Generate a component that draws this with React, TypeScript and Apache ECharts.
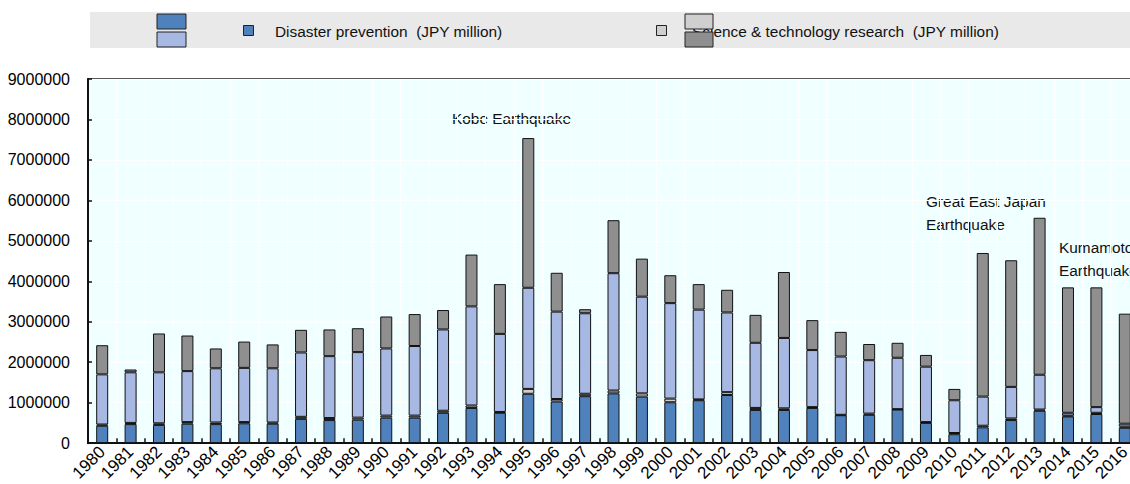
import React, { useEffect, useRef } from "react";
import * as echarts from "echarts";

const years = [
  "1980","1981","1982","1983","1984","1985","1986","1987","1988","1989",
  "1990","1991","1992","1993","1994","1995","1996","1997","1998","1999",
  "2000","2001","2002","2003","2004","2005","2006","2007","2008","2009",
  "2010","2011","2012","2013","2014","2015","2016",
];

const disasterPrevention = [
  430000, 470000, 450000, 480000, 470000, 490000, 480000, 600000, 570000, 580000,
  630000, 630000, 750000, 870000, 750000, 1220000, 1030000, 1160000, 1230000, 1150000,
  1010000, 1060000, 1190000, 820000, 820000, 870000, 690000, 700000, 830000, 500000,
  220000, 390000, 570000, 800000, 660000, 720000, 380000,
];

const scienceResearch = [
  30000, 30000, 40000, 40000, 40000, 30000, 30000, 50000, 50000, 50000,
  50000, 50000, 50000, 60000, 20000, 120000, 60000, 60000, 70000, 80000,
  90000, 20000, 70000, 50000, 40000, 20000, 10000, 30000, 10000, 20000,
  30000, 40000, 40000, 30000, 20000, 30000, 30000,
];

const landConservation = [
  1240000, 1250000, 1260000, 1260000, 1340000, 1340000, 1340000, 1590000, 1530000, 1620000,
  1660000, 1720000, 2010000, 2450000, 1930000, 2500000, 2160000, 1990000, 2900000, 2390000,
  2360000, 2220000, 1970000, 1610000, 1740000, 1410000, 1440000, 1320000, 1270000, 1370000,
  810000, 720000, 780000, 860000, 70000, 140000, 70000,
];

const disasterRecovery = [
  720000, 70000, 960000, 880000, 490000, 650000, 590000, 560000, 660000, 590000,
  790000, 790000, 480000, 1280000, 1230000, 3700000, 960000, 100000, 1310000, 940000,
  690000, 630000, 560000, 690000, 1630000, 740000, 610000, 400000, 370000, 290000,
  280000, 3550000, 3130000, 3880000, 3100000, 2960000, 2720000,
];

const seriesNames = [
  "Disaster prevention  (JPY million)",
  "Science & technology research  (JPY million)",
  "Land conservation  (JPY million)",
  "Disaster recovery  (JPY million)",
];

const annotations = [
  { text: "Kobe Earthquake", x: 452, y: 107 },
  { text: "Great East Japan\nEarthquake", x: 926, y: 190 },
  { text: "Kumamoto\nEarthquake", x: 1059, y: 236 },
];

const COLORS = ["#4f81bd", "#cfcfcf", "#a7b8e3", "#8f8f8f"];
const FONT = '"Liberation Sans", Arial, sans-serif';

export default function App() {
  const ref = useRef<HTMLDivElement>(null);

  useEffect(() => {
    if (!ref.current) return;
    const chart = echarts.init(ref.current, null, { renderer: "svg" });
    const values = [disasterPrevention, scienceResearch, landConservation, disasterRecovery];

    chart.setOption({
      animation: false,
      textStyle: { fontFamily: FONT },
      grid: {
        left: 88,
        top: 79,
        bottom: 39,
        right: 11,
        show: true,
        backgroundColor: "#f0ffff",
        borderColor: "#222",
        borderWidth: 1.5,
        containLabel: false,
      },
      xAxis: {
        type: "category",
        data: years,
        boundaryGap: true,
        axisLine: { show: true, lineStyle: { color: "#111", width: 2 } },
        axisTick: { show: true, inside: true, length: 5, alignWithLabel: false, lineStyle: { color: "#111", width: 1.5 } },
        axisLabel: { rotate: 45, fontSize: 17, color: "#000", margin: 6, fontFamily: FONT, interval: 0 },
        splitLine: { show: true, lineStyle: { color: "#ffffff", width: 1 } },
      },
      yAxis: {
        type: "value",
        min: 0,
        max: 9000000,
        interval: 1000000,
        axisLine: { show: true, lineStyle: { color: "#111", width: 2 } },
        axisTick: { show: true, inside: true, length: 4, lineStyle: { color: "#111", width: 1.5 } },
        axisLabel: { fontSize: 16, color: "#000", margin: 18, fontFamily: FONT, formatter: (v: number) => String(v) },
        splitLine: { show: true, lineStyle: { color: "#ffffff", width: 1 } },
      },
      series: seriesNames.map((name, i) => ({
        name,
        type: "bar",
        stack: "total",
        data: values[i],
        barWidth: 12,
        itemStyle: { color: COLORS[i], borderColor: "#111", borderWidth: 1 },
      })),
      graphic: [
        { type: "rect", shape: { x: 90, y: 12, width: 1040, height: 36 }, style: { fill: "#e9e9e9" }, silent: true },
        { type: "rect", shape: { x: 157, y: 14, width: 29, height: 15 }, style: { fill: COLORS[0], stroke: "#222", lineWidth: 1 } },
        { type: "rect", shape: { x: 157, y: 32, width: 29, height: 15 }, style: { fill: COLORS[2], stroke: "#222", lineWidth: 1 } },
        { type: "rect", shape: { x: 243.5, y: 25.5, width: 10, height: 10 }, style: { fill: COLORS[0], stroke: "#222", lineWidth: 1 } },
        { type: "text", x: 275, y: 31, style: { text: seriesNames[0], font: `15.4px ${FONT}`, fill: "#111", verticalAlign: "middle", lineWidth: 0, stroke: "none" } },
        { type: "rect", shape: { x: 656.5, y: 25.5, width: 10, height: 10 }, style: { fill: COLORS[1], stroke: "#222", lineWidth: 1 } },
        { type: "text", x: 692, y: 31, style: { text: seriesNames[1], font: `15.4px ${FONT}`, fill: "#111", verticalAlign: "middle", lineWidth: 0, stroke: "none" } },
        { type: "rect", shape: { x: 685, y: 14, width: 28, height: 15 }, style: { fill: COLORS[1], stroke: "#222", lineWidth: 1 } },
        { type: "rect", shape: { x: 685, y: 32, width: 28, height: 15 }, style: { fill: COLORS[3], stroke: "#222", lineWidth: 1 } },
        ...annotations.map((a) => ({
          type: "text",
          x: a.x,
          y: a.y,
          style: { text: a.text, font: `15.4px ${FONT}`, fill: "#111", lineHeight: 23, lineWidth: 0, stroke: "none" },
        })),
      ],
    });

    return () => chart.dispose();
  }, []);

  return (
    <div style={{ position: "fixed", left: 0, top: 0, width: 1130, height: 484, overflow: "hidden", background: "#fff" }}>
      <div ref={ref} style={{ width: 1150, height: 484 }} />
    </div>
  );
}
